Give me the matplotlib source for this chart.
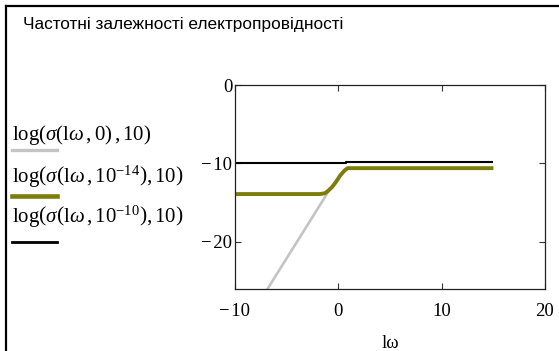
import matplotlib
matplotlib.use("Agg")
import matplotlib.pyplot as plt
from matplotlib.lines import Line2D

plt.rcParams["mathtext.fontset"] = "custom"
plt.rcParams["mathtext.rm"] = "Liberation Serif"
plt.rcParams["mathtext.it"] = "Liberation Serif:italic"
plt.rcParams["mathtext.bf"] = "Liberation Serif:bold"

# ---- data ----
title = "Частотні залежності електропровідності"
x_label = "lω"
x_ticks = [-10, 0, 10, 20]
y_ticks = [0, -10, -20]
x_tick_labels = ["\u2212\u200a10", "0", "10", "20"]
y_tick_labels = ["0", "\u2212\u200a10", "\u2212\u200a20"]

# sigma(lw, 0)
lw_s0 = [-10, -7.0, -1.3, -1.0, -0.6, -0.2, 0.2, 0.6, 0.9, 15]
sig_s0 = [-32.1, -26.3, -14.3, -13.6, -13.0, -12.3, -11.5, -10.9, -10.6, -10.6]
# sigma(lw, 1e-14)
lw_s14 = [-10, -1.8, -1.3, -1.0, -0.6, -0.2, 0.2, 0.6, 0.9, 15]
sig_s14 = [-13.9, -13.9, -13.8, -13.5, -13.0, -12.3, -11.5, -10.9, -10.6, -10.6]
# sigma(lw, 1e-10)
lw_s10 = [-10, 0.7, 0.7, 15]
sig_s10 = [-10.0, -10.0, -9.8, -9.8]

legend_labels = [
    r"$\mathrm{log}(\sigma(\mathrm{l}\omega\,,0)\,,10)$",
    r"$\mathrm{log}\left(\sigma\left(\mathrm{l}\omega\,,10^{-14}\right),10\right)$",
    r"$\mathrm{log}\left(\sigma\left(\mathrm{l}\omega\,,10^{-10}\right),10\right)$",
]
colors = ["#c4c4c4", "#7d7d0a", "#000000"]
widths = [1.9, 2.8, 1.5]

W, H = 559, 351
fig = plt.figure(figsize=(W / 100, H / 100), dpi=100)
fig.patch.set_facecolor("white")

def fx(px):
    return px / W

def fy(py):
    return 1 - py / H

ax = fig.add_axes([fx(235), fy(289), fx(545) - fx(235), fy(85) - fy(289)])
series = [(lw_s0, sig_s0), (lw_s14, sig_s14), (lw_s10, sig_s10)]
for (xs, ys), c, w in zip(series, colors, widths):
    ax.plot(xs, ys, color=c, lw=w, solid_capstyle="butt")

ax.set_xlim(-10, 20)
ax.set_ylim(-26, 0)
ax.set_xticks(x_ticks)
ax.set_xticklabels(x_tick_labels)
ax.set_yticks(y_ticks)
ax.set_yticklabels(y_tick_labels)
ax.tick_params(direction="in", length=4, width=0.8, top=True, right=True,
               labelsize=13.5, color="#333333")
ax.tick_params(axis="x", pad=10)
ax.tick_params(axis="y", pad=2)
for lab in ax.get_xticklabels() + ax.get_yticklabels():
    lab.set_family("Liberation Serif")
for s in ax.spines.values():
    s.set_linewidth(0.9)
    s.set_color("#222222")
ax.set_xlabel(x_label, family="Liberation Serif", fontsize=13.5, labelpad=11)

# title
fig.text(fx(23), fy(29), title, family="Liberation Sans", fontsize=12.4,
         ha="left", va="baseline")

# legend entries
baselines = [140, 183, 223]
line_y = [150, 196, 242]
for lab, b, ly, c, w in zip(legend_labels, baselines, line_y, colors, widths):
    fig.text(fx(12), fy(b), lab, fontsize=15, ha="left", va="baseline")
    fig.add_artist(Line2D([fx(12), fx(57)], [fy(ly), fy(ly)], color=c,
                          lw=w + 0.5, transform=fig.transFigure))

# outer frame (top and left)
fig.add_artist(Line2D([fx(6), fx(559)], [fy(6), fy(6)], color="black", lw=1.6,
                      transform=fig.transFigure))
fig.add_artist(Line2D([fx(6), fx(6)], [fy(6), fy(351)], color="black", lw=1.6,
                      transform=fig.transFigure))

fig.savefig("out.png", dpi=100)
